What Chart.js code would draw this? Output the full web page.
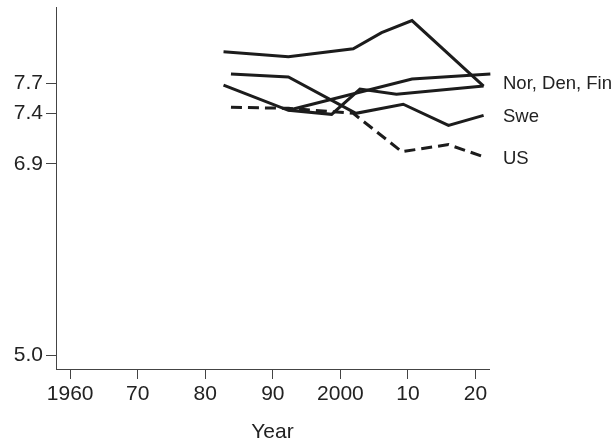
<!DOCTYPE html>
<html>
<head>
<meta charset="utf-8">
<script src="https://cdn.jsdelivr.net/npm/chart.js@4"></script>
<style>
  html, body { margin: 0; padding: 0; background: #fff; }
  #wrap { width: 615px; height: 445px; }
</style>
</head>
<body>
<div id="wrap"><canvas id="chart"></canvas></div>
<script>
// Werte (Jahr, Wert)
const yearsA = [1982.7, 1992.3, 2001.9, 2006.1, 2010.6, 2021.2];
const valuesA = [8.01, 7.96, 8.04, 8.20, 8.32, 7.67];

const yearsB = [1983.8, 1992.3, 2002.3, 2009.3, 2016.0, 2021.2];
const valuesB = [7.79, 7.76, 7.40, 7.49, 7.28, 7.38];   // Swe

const yearsC = [1982.7, 1992.3, 1998.7, 2002.9, 2008.3, 2021.2];
const valuesC = [7.68, 7.43, 7.39, 7.64, 7.59, 7.67];

const yearsD = [1992.3, 2010.6, 2022.2];
const valuesD = [7.43, 7.74, 7.79];

const yearsUS = [1983.8, 1992.3, 2001.9, 2009.1, 2016.0, 2021.2];
const valuesUS = [7.46, 7.45, 7.40, 7.02, 7.09, 6.97];

const xTicks = [1960, 1970, 1980, 1990, 2000, 2010, 2020];
const xTickLabels = ['1960', '70', '80', '90', '2000', '10', '20'];
const yTicks = [5.0, 6.9, 7.4, 7.7];

const toPoints = (xs, ys) => xs.map((x, i) => ({ x: x, y: ys[i] }));
const last = arr => arr[arr.length - 1];

// Beschriftungen rechts neben den Linien
const endLabels = [
  { text: 'Nor, Den, Fin', value: (last(valuesA) + last(valuesC) + last(valuesD)) / 3 },
  { text: 'Swe', value: last(valuesB) },
  { text: 'US', value: last(valuesUS) }
];

const fontFamily = '"Liberation Sans", Arial, sans-serif';
const lineColor = '#1c1c1c';
const axisColor = '#444';

const endLabelPlugin = {
  id: 'endLabels',
  afterDatasetsDraw(chart) {
    const ctx = chart.ctx;
    const y = chart.scales.y;
    ctx.save();
    ctx.fillStyle = '#222';
    ctx.font = '18.5px ' + fontFamily;
    ctx.textBaseline = 'middle';
    ctx.textAlign = 'left';
    endLabels.forEach(l => {
      ctx.fillText(l.text, chart.chartArea.right + 14, y.getPixelForValue(l.value) + 2);
    });
    ctx.restore();
  }
};

function lineSet(xs, ys, dashed) {
  return {
    data: toPoints(xs, ys),
    borderColor: lineColor,
    borderWidth: 3,
    borderDash: dashed ? [11, 6] : [],
    pointRadius: 0,
    tension: 0,
    clip: false
  };
}

const ctx = document.getElementById('chart').getContext('2d');
new Chart(ctx, {
  type: 'line',
  data: {
    datasets: [
      lineSet(yearsA, valuesA),
      lineSet(yearsB, valuesB),
      lineSet(yearsC, valuesC),
      lineSet(yearsD, valuesD),
      lineSet(yearsUS, valuesUS, true)
    ]
  },
  options: {
    responsive: true,
    maintainAspectRatio: false,
    animation: false,
    layout: { padding: { left: 0, right: 126, top: 7, bottom: 0 } },
    plugins: {
      legend: { display: false },
      tooltip: { enabled: false }
    },
    scales: {
      x: {
        type: 'linear',
        min: 1957.9,
        max: 2022,
        afterBuildTicks: s => { s.ticks = xTicks.map(v => ({ value: v })); },
        afterFit: s => { s.height = 76; s.paddingLeft = 0; s.paddingRight = 0; },
        grid: { drawOnChartArea: false, drawTicks: true, tickLength: 10, color: axisColor },
        border: { display: true, color: axisColor, width: 1 },
        ticks: {
          padding: 3,
          color: '#222',
          font: { size: 21, family: fontFamily },
          maxRotation: 0,
          callback: (v) => xTickLabels[xTicks.indexOf(v)]
        },
        title: {
          display: true,
          text: 'Year',
          color: '#222',
          padding: { top: 0, bottom: 0 },
          font: { size: 21, family: fontFamily }
        }
      },
      y: {
        min: 4.866,
        max: 8.454,
        afterBuildTicks: s => { s.ticks = yTicks.map(v => ({ value: v })); },
        afterFit: s => { s.width = 56; s.paddingTop = 0; s.paddingBottom = 0; },
        grid: { drawOnChartArea: false, drawTicks: true, tickLength: 10, color: axisColor },
        border: { display: true, color: axisColor, width: 1 },
        ticks: {
          padding: 3,
          color: '#222',
          font: { size: 21, family: fontFamily },
          callback: v => v.toFixed(1)
        }
      }
    }
  },
  plugins: [endLabelPlugin]
});
</script>
</body>
</html>
